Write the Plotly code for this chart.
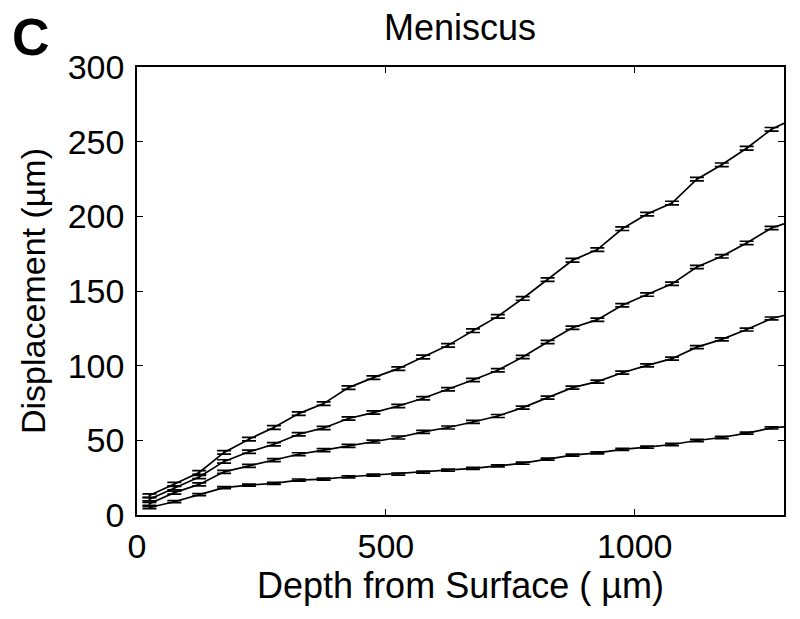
import plotly.graph_objects as go

depth = [25, 75, 125, 175, 225, 275, 325, 375, 425, 475, 525, 575, 625,
         675, 725, 775, 825, 875, 925, 975, 1025, 1075, 1125, 1175, 1225, 1275]
edge_depth = 1300

s1 = [13, 20.7, 28.5, 41.9, 50.8, 58.6, 67.9, 74.6, 85.3, 92, 98, 105.8, 113.6,
      123.4, 133, 145, 157.6, 170.6, 177.7, 191.7, 201.5, 208.9, 224.9, 234.5, 245.6, 258.3]
s2 = [10.5, 18, 25.5, 35.9, 42.3, 47.4, 54.1, 58.3, 64.6, 68.6, 73, 78.2, 84.2,
      90.4, 96.9, 105.8, 115.8, 125.4, 130.8, 140.5, 147.6, 154.8, 166.1, 173.2, 182.2, 192.2]
s3 = [7.5, 15, 20.5, 28.9, 32.9, 36.7, 40.7, 43.4, 46.3, 49.2, 51.9, 55.7, 58.6,
      62.3, 66.3, 71.9, 78.6, 85.3, 89.3, 95.3, 100.2, 104.7, 112.4, 117.6, 124.2, 131.6]
s4 = [5, 8.9, 13.6, 18.3, 20, 21.2, 23.4, 24, 25.6, 26.7, 27.4, 28.7, 30,
      31.2, 32.9, 34.7, 37.4, 40.1, 41.6, 43.9, 45.4, 47.2, 49.9, 51.9, 54.8, 58.3]
edge_vals = [262.3, 195, 133.6, 59]
errs = [1.2, 1.1, 1.0, 0.7]

series = [s1, s2, s3, s4]

FONT = "Liberation Sans, Arial, Helvetica, sans-serif"

fig = go.Figure()
for vals, ev, er in zip(series, edge_vals, errs):
    fig.add_trace(go.Scatter(
        x=depth + [edge_depth], y=vals + [ev], mode="lines",
        line=dict(color="black", width=1.7), showlegend=False, hoverinfo="skip"))
    fig.add_trace(go.Scatter(
        x=depth, y=vals, mode="markers",
        marker=dict(size=1, color="black", opacity=0),
        error_y=dict(type="constant", value=er, color="black", thickness=1.7, width=7),
        showlegend=False))

axis_common = dict(
    showline=True, linecolor="black", linewidth=1.5, mirror="ticks",
    ticks="inside", ticklen=6, tickwidth=1.2, tickcolor="black",
    showgrid=False, zeroline=False,
    tickfont=dict(family=FONT, size=34, color="black"),
)

# page body has an 8px default margin; figure sized to fill the 800x619 window
OFF = 8
W, H = 800 - 2 * OFF, 619 - 2 * OFF
L, T = 137 - OFF, 67 - OFF
R = (OFF + W) - 786
B = (OFF + H) - 515

fig.update_layout(
    width=W, height=H,
    margin=dict(l=L, r=R, t=T, b=B),
    paper_bgcolor="white", plot_bgcolor="white",
    font=dict(family=FONT, color="black"),
    xaxis=dict(range=[0, 1300], tickvals=[0, 500, 1000], ticktext=["0", "500", "1000"],
               title=dict(text="Depth from Surface ( µm)", font=dict(family=FONT, size=36), standoff=6),
               **axis_common),
    yaxis=dict(range=[0, 300], tickvals=[0, 50, 100, 150, 200, 250, 300],
               title=dict(text="Displacement (µm)", font=dict(family=FONT, size=34), standoff=12),
               ticklabelstandoff=4,
               **axis_common),
)

pw = 786 - 137
ph = 515 - 67
for text, px, py, size, hgt in [("Meniscus", 461, 27, 36, 34), ("<b>C</b>", 31, 37, 52, 48)]:
    fig.add_annotation(
        text=text, showarrow=False, xref="paper", yref="paper",
        x=(px - 137) / pw, y=(515 - py) / ph, xanchor="center", yanchor="middle",
        height=hgt, valign="middle",
        font=dict(family=FONT, size=size, color="black"))

fig.write_html("out.html")
